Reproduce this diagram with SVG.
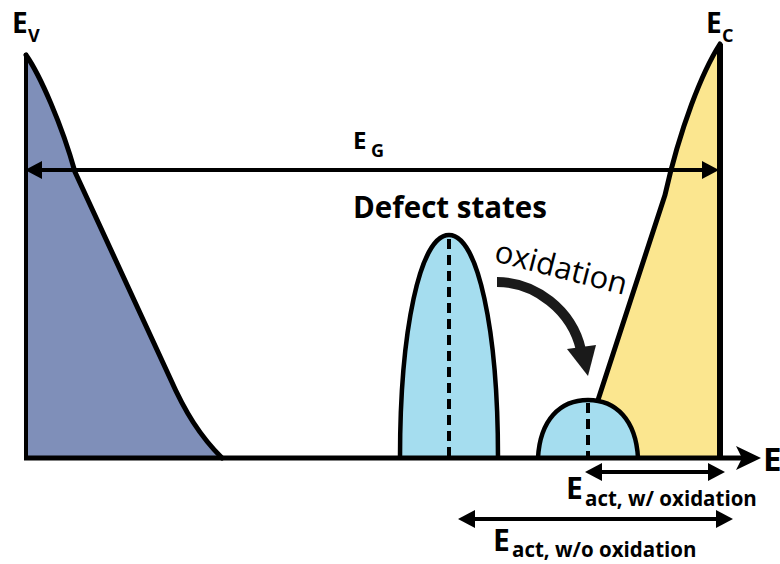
<svg xmlns="http://www.w3.org/2000/svg" width="780" height="564" viewBox="0 0 780 564">
<style>
.lbl{font-family:"Open Sans","Liberation Sans",sans-serif;font-weight:bold;fill:#000}
.reg{font-family:"Open Sans","Liberation Sans",sans-serif;fill:#000}
.edge{fill:none;stroke:#000;stroke-linejoin:round;stroke-linecap:round}
.peak{fill:#a5ddef;stroke:#000;stroke-width:4.5}
.dash{stroke:#000;stroke-width:4;stroke-dasharray:10 6}
.arr{stroke:#000;stroke-width:4;fill:none}
.head{fill:#000}
</style>
<rect width="780" height="564" fill="#fff"/>
<g id="valence-band">
<path d="M26,55 C40,75 62,125 75,172 L170,378 C185,412 200,436 222,458 L26,458 Z" fill="#7f8fb9"/>
<path class="edge" d="M26,55 C40,75 62,125 75,172 L170,378 C185,412 200,436 222,458" stroke-width="5"/>
<text class="lbl" x="12" y="33" font-size="28">E</text>
<text class="lbl" x="28" y="42" font-size="18">V</text>
</g>
<g id="conduction-band">
<path d="M720,44 C702,72 680,128 665,195 L598,400 L598,458 L720,458 Z" fill="#fbe68f"/>
<path class="edge" d="M720,44 C702,72 680,128 665,195 L598,400" stroke-width="5"/>
<line x1="720" y1="44" x2="720" y2="458" stroke="#000" stroke-width="6"/>
<text class="lbl" x="706" y="33" font-size="28">E</text>
<text class="lbl" x="722" y="42" font-size="18">C</text>
</g>
<g id="defect-peak-1">
<path class="peak" d="M400,458 C400,330 420,235 449,235 C478,235 498,330 498,458"/>
<line class="dash" x1="449" y1="239" x2="449" y2="456"/>
<text class="lbl" x="450" y="218" font-size="29.5" text-anchor="middle">Defect states</text>
</g>
<g id="defect-peak-2">
<path class="peak" d="M538,458 C540,420 560,400 588,400 C616,400 636,420 638,458"/>
<line class="dash" x1="588" y1="403" x2="588" y2="456"/>
</g>
<g id="axes">
<line x1="26" y1="53" x2="26" y2="460" stroke="#000" stroke-width="4"/>
<line x1="24" y1="458" x2="745" y2="458" stroke="#000" stroke-width="5"/>
<polygon class="head" points="736,446 761,458 736,470 742,458"/>
<text class="lbl" x="763" y="471" font-size="33">E</text>
</g>
<g id="connectors">
<g id="eg-arrow">
<line class="arr" x1="36" y1="170" x2="708" y2="170" stroke-width="3"/>
<polygon class="head" points="25,170 42,161 42,179"/>
<polygon class="head" points="719,170 702,161 702,179"/>
<text class="lbl" x="353" y="149" font-size="24">E</text>
<text class="lbl" x="371" y="157" font-size="18">G</text>
</g>
<g id="oxidation-arrow">
<path d="M497,282 C535,282 572,310 581,350" fill="none" stroke="#1a1a1a" stroke-width="10"/>
<polygon points="567,349 596,345 588,376" fill="#1a1a1a"/>
<text class="reg" font-size="31" transform="translate(493,261) rotate(14.5)">oxidation</text>
</g>
<g id="eact-with">
<line class="arr" x1="598" y1="472" x2="712" y2="472"/>
<polygon class="head" points="585,472 602,463 602,481"/>
<polygon class="head" points="725,472 708,463 708,481"/>
<text class="lbl" x="566" y="499" font-size="30">E</text>
<text class="lbl" x="585" y="506" font-size="20.5">act, w/ oxidation</text>
</g>
<g id="eact-without">
<line class="arr" x1="470" y1="519" x2="720" y2="519"/>
<polygon class="head" points="458,519 475,510 475,528"/>
<polygon class="head" points="733,519 716,510 716,528"/>
<text class="lbl" x="493" y="551" font-size="30">E</text>
<text class="lbl" x="512" y="557" font-size="20.5">act, w/o oxidation</text>
</g>
</g>
</svg>
